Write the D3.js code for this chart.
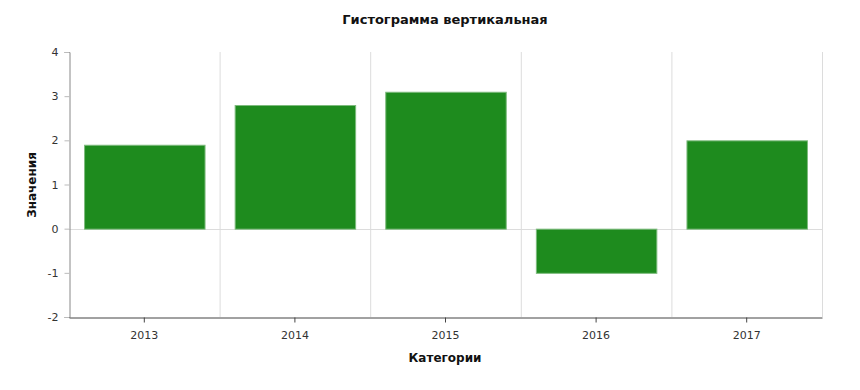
<!DOCTYPE html>
<html>
<head>
<meta charset="utf-8">
<script src="https://cdn.jsdelivr.net/npm/d3@7"></script>
<style>
  body { margin: 0; background: #fff; }
  text { font-family: "DejaVu Sans", Verdana, sans-serif; }
</style>
</head>
<body>
<script>
var width = 860;
var height = 390;

var categories = ["2013", "2014", "2015", "2016", "2017"];
var values = [1.9, 2.8, 3.1, -1, 2.0];
var yTicks = [-2, -1, 0, 1, 2, 3, 4];

var titleText = "Гистограмма вертикальная";
var xTitle = "Категории";
var yTitle = "Значения";

var margin = {left: 69, right: 38, top: 52, bottom: 73};

var x = d3.scaleBand()
  .domain(categories)
  .range([margin.left, width - margin.right])
  .padding(0);

var y = d3.scaleLinear()
  .domain([-2, 4])
  .range([height - margin.bottom, margin.top]);

var svg = d3.select("body")
  .append("svg")
  .attr("width", width)
  .attr("height", height);

// vertical grid lines at category boundaries
svg.append("g")
  .selectAll("line")
  .data(categories.slice(1).concat(["end"]))
  .enter()
  .append("line")
  .attr("x1", (d,i) => x.range()[0] + x.step() * (i + 1) + 0.5)
  .attr("x2", (d,i) => x.range()[0] + x.step() * (i + 1) + 0.5)
  .attr("y1", y(4))
  .attr("y2", y(-2))
  .attr("stroke", "#dcdcdc")
  .attr("stroke-width", 1);

// zero line
svg.append("line")
  .attr("x1", margin.left)
  .attr("x2", width - margin.right)
  .attr("y1", Math.round(y(0)) + 0.5)
  .attr("y2", Math.round(y(0)) + 0.5)
  .attr("stroke", "#dcdcdc");

// bars
var inset = x.bandwidth() * 0.1;
svg.append("g")
  .selectAll("rect")
  .data(values)
  .enter()
  .append("rect")
  .attr("x", (d,i) => x(categories[i]) + inset + 0.5)
  .attr("width", x.bandwidth() - 2 * inset)
  .attr("y", d => y(Math.max(0, d)) + 0.5)
  .attr("height", d => Math.abs(y(d) - y(0)))
  .attr("fill", "#1e8b1e")
  .attr("stroke", "#7dbb7d")
  .attr("stroke-width", 1);

// y axis
var yAxis = d3.axisLeft(y)
  .tickValues(yTicks)
  .tickSize(5)
  .tickPadding(6)
  .tickFormat(d => String(d));

var gy = svg.append("g")
  .attr("transform", "translate(" + (margin.left + 0.5) + ",0)")
  .call(yAxis);
gy.select(".domain").attr("stroke", "#888");
gy.selectAll(".tick line").attr("stroke", "#bbb");
gy.selectAll(".tick text")
  .attr("fill", "#333")
  .style("font-size", "11px");

// x axis
var xAxis = d3.axisBottom(x)
  .tickSize(5)
  .tickSizeOuter(0)
  .tickPadding(9);

var gx = svg.append("g")
  .attr("transform", "translate(0," + (y(-2) + 0.5) + ")")
  .call(xAxis);
gx.select(".domain").attr("stroke", "#444");
gx.selectAll(".tick line").attr("stroke", "#444");
gx.selectAll(".tick text")
  .attr("fill", "#333")
  .style("font-size", "11px");

// titles
svg.append("text")
  .attr("x", 445)
  .attr("y", 24)
  .attr("text-anchor", "middle")
  .style("font-size", "13px")
  .style("font-weight", "bold")
  .attr("fill", "#111")
  .text(titleText);

svg.append("text")
  .attr("x", 445)
  .attr("y", 362)
  .attr("text-anchor", "middle")
  .style("font-size", "12px")
  .style("font-weight", "bold")
  .attr("fill", "#111")
  .text(xTitle);

svg.append("text")
  .attr("transform", "translate(36," + 185 + ") rotate(-90)")
  .attr("text-anchor", "middle")
  .style("font-size", "12px")
  .style("font-weight", "bold")
  .attr("fill", "#111")
  .text(yTitle);
</script>
</body>
</html>
